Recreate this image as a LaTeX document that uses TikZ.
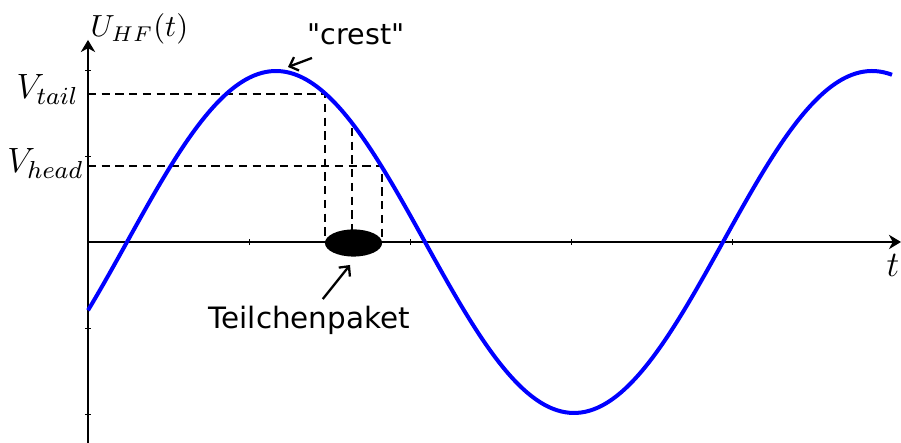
\RequirePackage{fix-cm}
\documentclass[tikz,border=0pt]{standalone}
\usepackage{fontspec}
\newfontfamily\labelfont{DejaVu Sans}
\usetikzlibrary{arrows.meta,shapes.geometric}
\newcommand{\fsz}[1]{\fontsize{#1}{#1}\selectfont}
\tikzset{
  axisline/.style={line width=0.7pt,-{Stealth[length=4.2pt,width=5pt,inset=1.3pt]}},
  guide/.style={line width=0.75pt,dash pattern=on 2.9pt off 1.9pt},
  pointer/.style={line width=0.8pt,-{Straight Barb[length=2.6pt,width=5pt]}},
  tickmark/.style={line width=0.3pt},
  wave/.style={blue,line width=1.4pt},
  mathlabel/.style={anchor=base east,inner sep=0pt,font=\fsz{12.3}},
  textlabel/.style={anchor=base west,inner sep=0pt,font=\labelfont\fsz{10}},
}

\begin{document}
\begin{tikzpicture}[x=0.35pt,y=0.35pt]
  \useasboundingbox (0,0) rectangle (901,443);
  \coordinate (O) at (88,201);
  \coordinate (xend) at (901,201);
  \coordinate (ybot) at (88,0);
  \coordinate (ytop) at (88,403);
  % points where the packet edges meet the wave
  \coordinate (tail) at (325,349);
  \coordinate (head) at (382,277);
  \coordinate (mid) at (352,315);
  \draw[guide] (tail -| O) -- (tail) -- (tail |- O);
  \draw[guide] (head -| O) -- (head) -- (head |- O);
  \draw[guide] (mid) -- (mid |- O);
  \node[ellipse,fill=black,minimum width=20pt,minimum height=9.5pt,inner sep=0pt]
    (paket) at (353.5,200) {};
  \draw[axisline] (ybot) -- (ytop);
  \draw[axisline] (O) -- (xend);
  \foreach \k in {1,...,4}{\draw[tickmark] (88+161*\k,198)--(88+161*\k,204);}
  \foreach \k in {-2,-1,1,2}{\draw[tickmark] (85,201+86*\k)--(91,201+86*\k);}
  \draw[wave] plot[domain=88:892,samples=200,smooth] (\x,{201+171*sin(0.60403*(\x-127))});

  \node[mathlabel,anchor=base west,font=\fsz{10.7}] (uhf) at (90,406) {$U_{HF}(t)$};
  \node[mathlabel] (vtail) at (79,344) {$V_{tail}$};
  \node[mathlabel] (vhead) at (84,270) {$V_{head}$};
  \node[mathlabel,font=\fsz{12.6}] (tlab) at (900,166) {$t$};
  \node[textlabel] (crest) at (307,398) {"crest"};
  \node[textlabel,font=\labelfont\fsz{10.3}] (teil) at (208,114) {Teilchenpaket};
  \coordinate (crestpt) at (288,376);
  \coordinate (paketpt) at (350,178);
  \draw[pointer] (crest.south west) ++(5,-12) -- (crestpt);
  \draw[pointer] (teil.north) ++(13.5,7) -- (paketpt);
\end{tikzpicture}
\end{document}
